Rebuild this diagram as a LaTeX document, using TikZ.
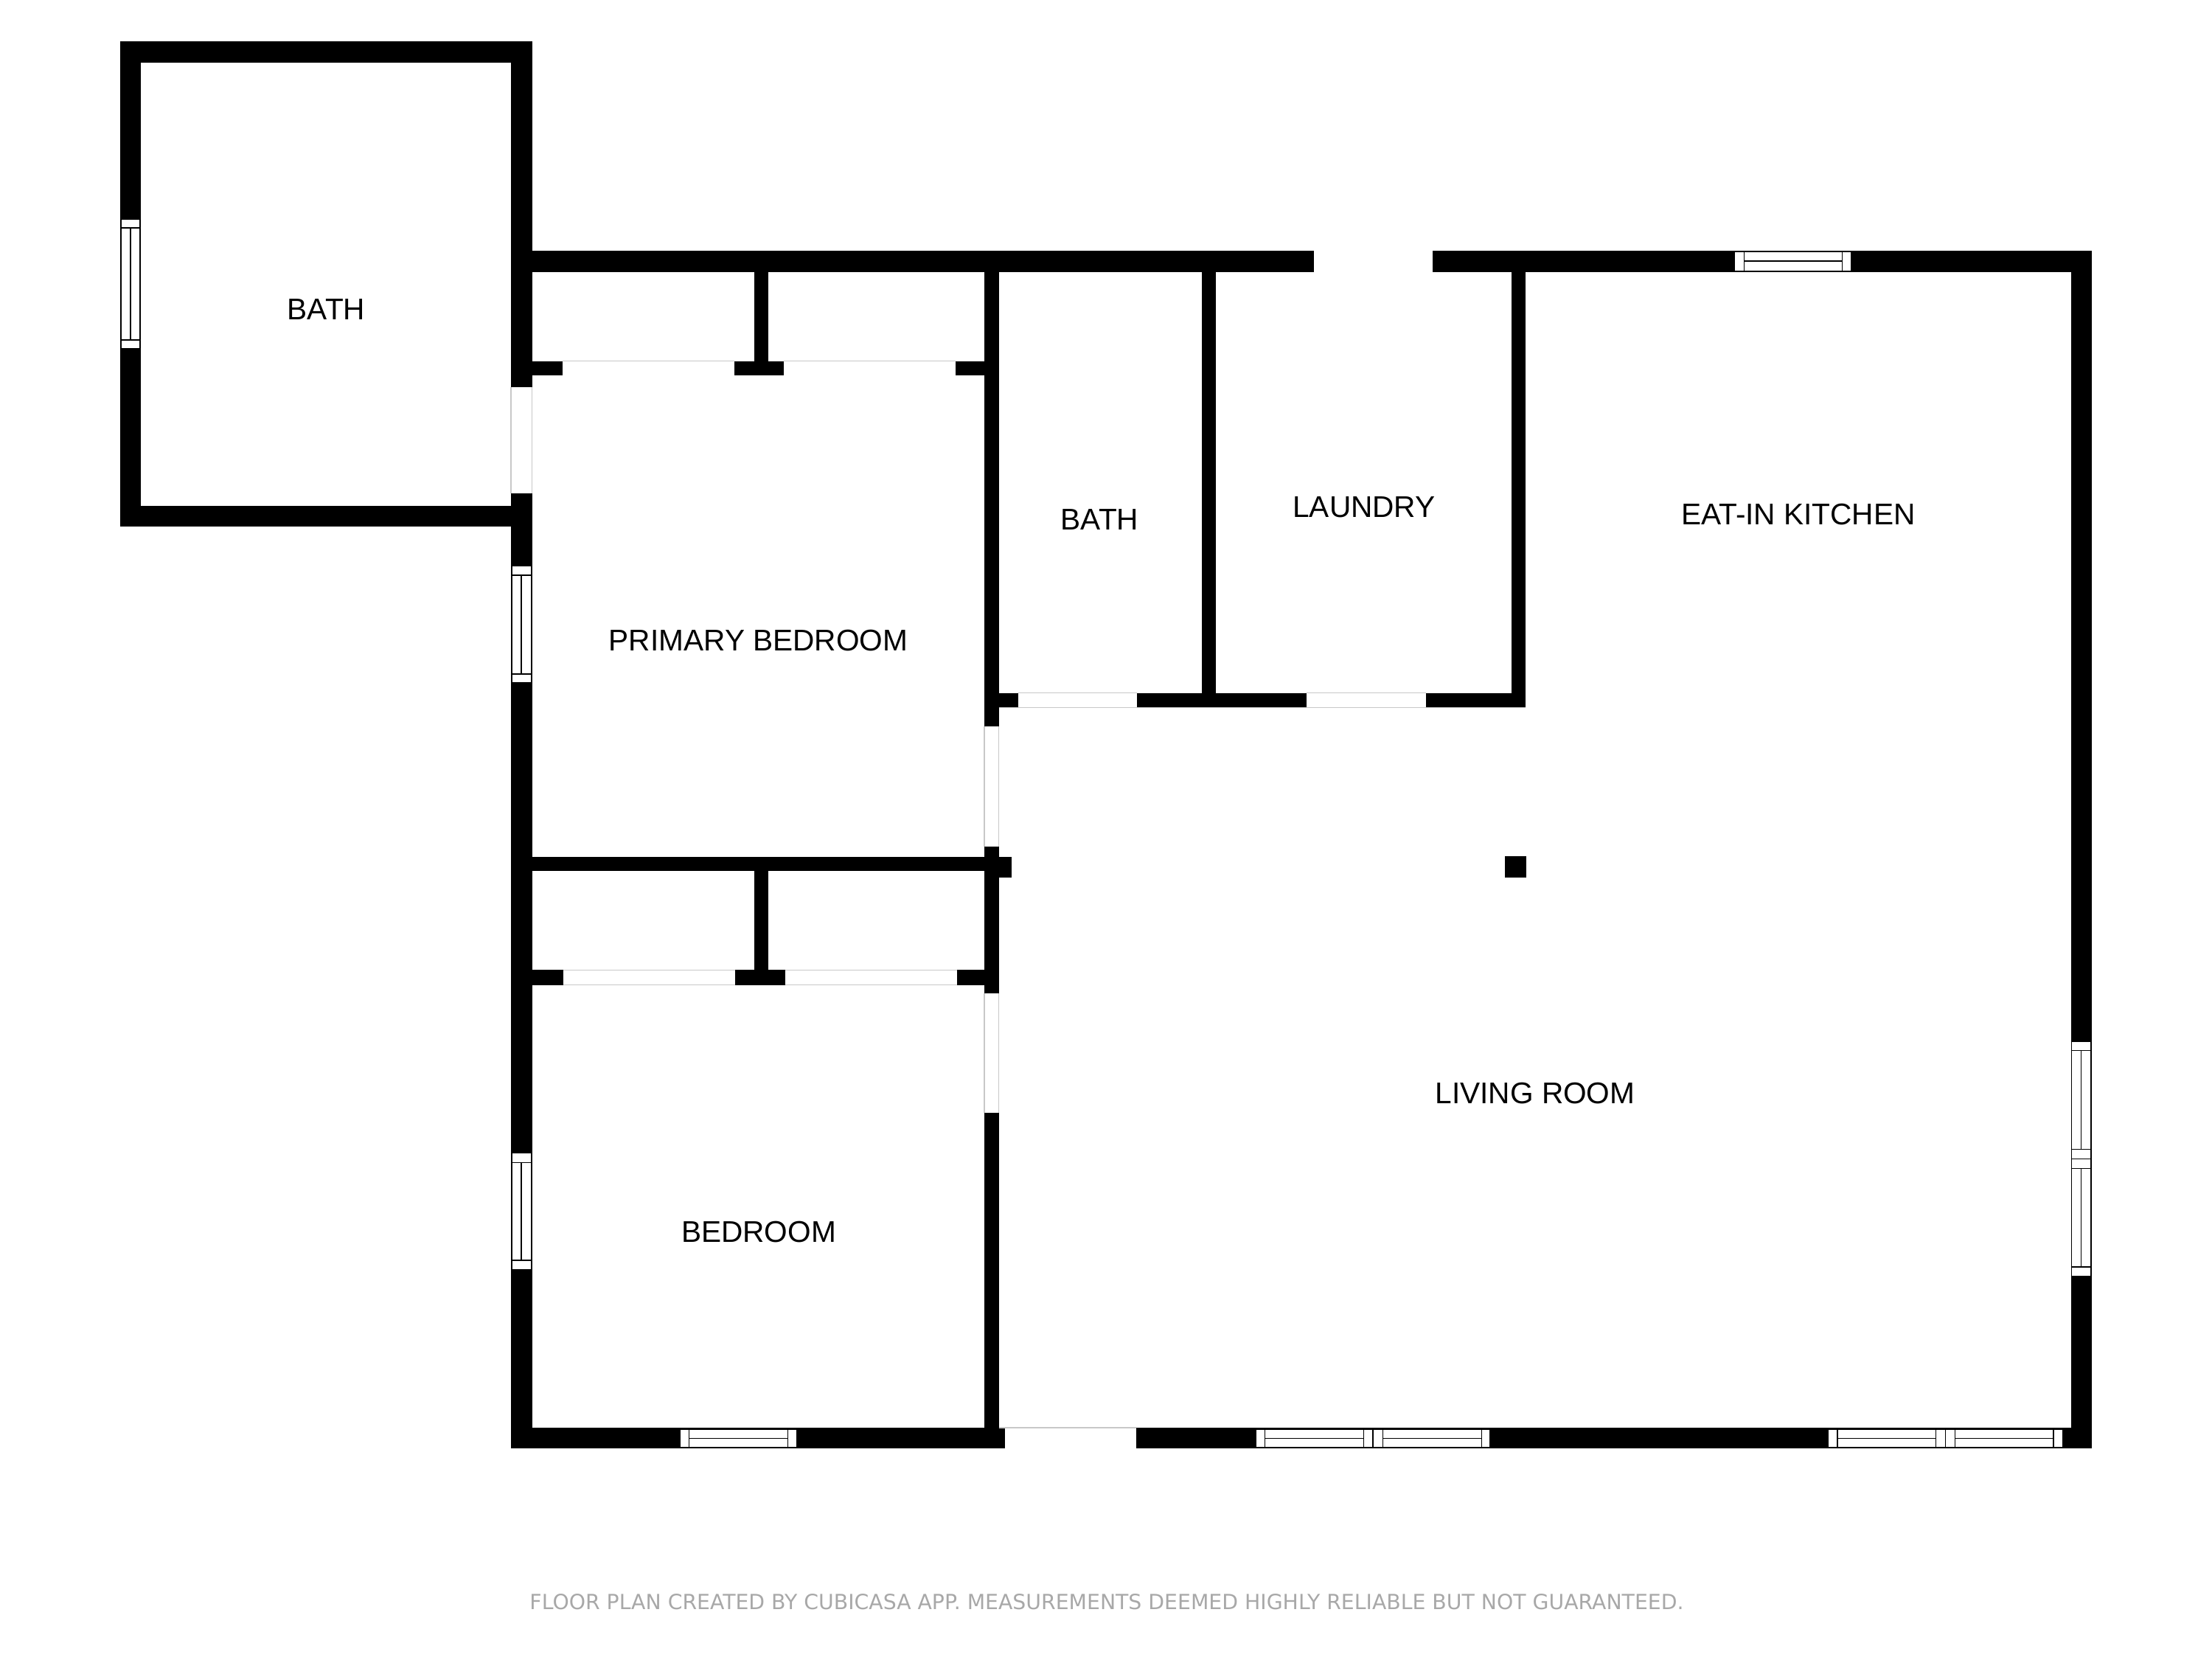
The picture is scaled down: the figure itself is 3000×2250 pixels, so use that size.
\documentclass[tikz,border=0pt]{standalone}
\usepackage{fontspec}
\setmainfont{Liberation Sans}
\newfontfamily\footfont{DejaVu Sans}
\usepackage{tikz}
\definecolor{footgray}{HTML}{A8A8A8}
\definecolor{doorgray}{HTML}{C8C8C8}
\tikzset{
	wall/.style={fill=black},
	glass/.style={draw=black,line width=0.5pt,fill=white},
	pane/.style={draw=black,line width=0.5pt},
	doorline/.style={draw=doorgray,line width=0.3pt},
	roomlabel/.style={anchor=base,inner sep=0pt,font=\fontsize{11.55}{14}\selectfont}
}

\begin{document}
\begin{tikzpicture}[x=0.01cm,y=-0.01cm]
	\useasboundingbox (0,0) rectangle (3000,2250);

	% walls
	\begin{scope}
		\fill[wall] (162.5,56) rectangle (721.5,84.5);
		\fill[wall] (162.5,56) rectangle (191,714);
		\fill[wall] (162.5,686) rectangle (693,714);
		\fill[wall] (693,56) rectangle (721.5,525);
		\fill[wall] (693,669) rectangle (721.5,1964);

		\fill[wall] (693,340) rectangle (1781.5,368.5);
		\fill[wall] (1943,340) rectangle (2837,368.5);
		\fill[wall] (2808.5,340) rectangle (2837,1964);
		\fill[wall] (693,1936) rectangle (1363,1964);
		\fill[wall] (1541,1936) rectangle (2837,1964);

		\fill[wall] (1335,340) rectangle (1354.5,985);
		\fill[wall] (1335,1147.5) rectangle (1354.5,1347);
		\fill[wall] (1335,1509) rectangle (1354.5,1964);
		\fill[wall] (1630,340) rectangle (1649,959);
		\fill[wall] (2049.5,340) rectangle (2069,959);

		\fill[wall] (1335,939.5) rectangle (1380.5,959);
		\fill[wall] (1542,939.5) rectangle (1771.5,959);
		\fill[wall] (1933.5,939.5) rectangle (2069,959);

		\fill[wall] (1022.5,340) rectangle (1042,490);
		\fill[wall] (721,489.5) rectangle (762.5,509);
		\fill[wall] (995.5,489.5) rectangle (1063,509);
		\fill[wall] (1296,489.5) rectangle (1335,509);

		\fill[wall] (721,1161.5) rectangle (1354.5,1181);
		\fill[wall] (1335,1161.5) rectangle (1372,1190);
		\fill[wall] (1022.5,1181) rectangle (1042,1315);
		\fill[wall] (721,1315) rectangle (764,1335.5);
		\fill[wall] (997,1315) rectangle (1065,1335.5);
		\fill[wall] (1298,1315) rectangle (1335,1335.5);

		\fill[wall] (2040.5,1161) rectangle (2069.5,1190);
	\end{scope}

	% door edges
	\begin{scope}
		\draw[doorline] (693,525) -- (693,669);
		\draw[doorline] (721.5,525) -- (721.5,669);
		\draw[doorline] (762.5,489.5) -- (995.5,489.5);
		\draw[doorline] (1063,489.5) -- (1296,489.5);
		\draw[doorline] (764,1315) -- (997,1315);
		\draw[doorline] (1065,1315) -- (1298,1315);
		\draw[doorline] (764,1335.5) -- (997,1335.5);
		\draw[doorline] (1065,1335.5) -- (1298,1335.5);
		\draw[doorline] (1380.5,939.5) -- (1542,939.5);
		\draw[doorline] (1771.5,939.5) -- (1933.5,939.5);
		\draw[doorline] (1354.5,959) -- (2069,959);
		\draw[doorline] (1335,985) -- (1335,1147.5);
		\draw[doorline] (1354.5,985) -- (1354.5,1147.5);
		\draw[doorline] (1335,1347) -- (1335,1509);
		\draw[doorline] (1354.5,1347) -- (1354.5,1509);
		\draw[doorline,line width=0.6pt] (1354.5,1936) -- (1541,1936);
	\end{scope}

	% windows
	\begin{scope}
		\draw[glass] (164,297) rectangle (190,473);
		\draw[pane] (164,309) -- (190,309);
		\draw[pane] (164,461) -- (190,461);
		\draw[pane] (177,309) -- (177,461);

		\draw[glass] (694,767) rectangle (720.5,926);
		\draw[pane] (694,780) -- (720.5,780);
		\draw[pane] (694,914) -- (720.5,914);
		\draw[pane] (707,780) -- (707,914);

		\draw[glass] (694,1563.5) rectangle (720.5,1722);
		\draw[pane] (694,1576.5) -- (720.5,1576.5);
		\draw[pane] (694,1709) -- (720.5,1709);
		\draw[pane] (707,1576.5) -- (707,1709);

		\draw[glass] (2352.5,341.5) rectangle (2511,367.5);
		\draw[pane] (2365.5,341.5) -- (2365.5,367.5);
		\draw[pane] (2498.5,341.5) -- (2498.5,367.5);
		\draw[pane] (2365.5,354) -- (2498.5,354);

		\draw[glass] (922,1938) rectangle (1081,1963);
		\draw[pane] (934.5,1938) -- (934.5,1963);
		\draw[pane] (1068.5,1938) -- (1068.5,1963);
		\draw[pane] (934.5,1950.5) -- (1068.5,1950.5);

		\draw[glass] (1703,1938) rectangle (2021,1963);
		\draw[pane] (1715.5,1938) -- (1715.5,1963);
		\draw[pane] (1849.5,1938) -- (1849.5,1963);
		\draw[pane] (1862,1938) -- (1862,1963);
		\draw[pane] (1875.5,1938) -- (1875.5,1963);
		\draw[pane] (2009.5,1938) -- (2009.5,1963);
		\draw[pane] (1715.5,1950.5) -- (1849.5,1950.5);
		\draw[pane] (1875.5,1950.5) -- (2009.5,1950.5);

		\draw[glass] (2479,1938) rectangle (2798,1963);
		\draw[pane] (2492,1938) -- (2492,1963);
		\draw[pane] (2625.5,1938) -- (2625.5,1963);
		\draw[pane] (2638.5,1938) -- (2638.5,1963);
		\draw[pane] (2651.5,1938) -- (2651.5,1963);
		\draw[pane] (2785,1938) -- (2785,1963);
		\draw[pane] (2492,1950.5) -- (2625.5,1950.5);
		\draw[pane] (2651.5,1950.5) -- (2785,1950.5);

		\draw[glass] (2809.5,1412) rectangle (2836,1730.5);
		\draw[pane] (2809.5,1424.5) -- (2836,1424.5);
		\draw[pane] (2809.5,1558.5) -- (2836,1558.5);
		\draw[pane] (2809.5,1571.5) -- (2836,1571.5);
		\draw[pane] (2809.5,1584.5) -- (2836,1584.5);
		\draw[pane] (2809.5,1718) -- (2836,1718);
		\draw[pane] (2822.5,1424.5) -- (2822.5,1558.5);
		\draw[pane] (2822.5,1584.5) -- (2822.5,1718);
	\end{scope}

	% room names
	\begin{scope}[every node/.style={roomlabel}]
		\node (outerbath) at (442.5,433.5) {BATH};
		\node (primary) at (1028.5,882.5) {PRIMARY BEDROOM};
		\node (innerbath) at (1491.5,718) {BATH};
		\node (laundry) at (1850,701.5) {LAUNDRY};
		\node (kitchen) at (2439,711) {EAT-IN KITCHEN};
		\node (living) at (2082,1496) {LIVING ROOM};
		\node (bedroom) at (1029,1684) {BEDROOM};
	\end{scope}

	\node[anchor=base,inner sep=0pt,text=footgray,font=\footfont\fontsize{8.05}{10}\selectfont] (credit) at (1501,2182.5) {FLOOR PLAN CREATED BY CUBICASA APP. MEASUREMENTS DEEMED HIGHLY RELIABLE BUT NOT GUARANTEED.};
\end{tikzpicture}
\end{document}
